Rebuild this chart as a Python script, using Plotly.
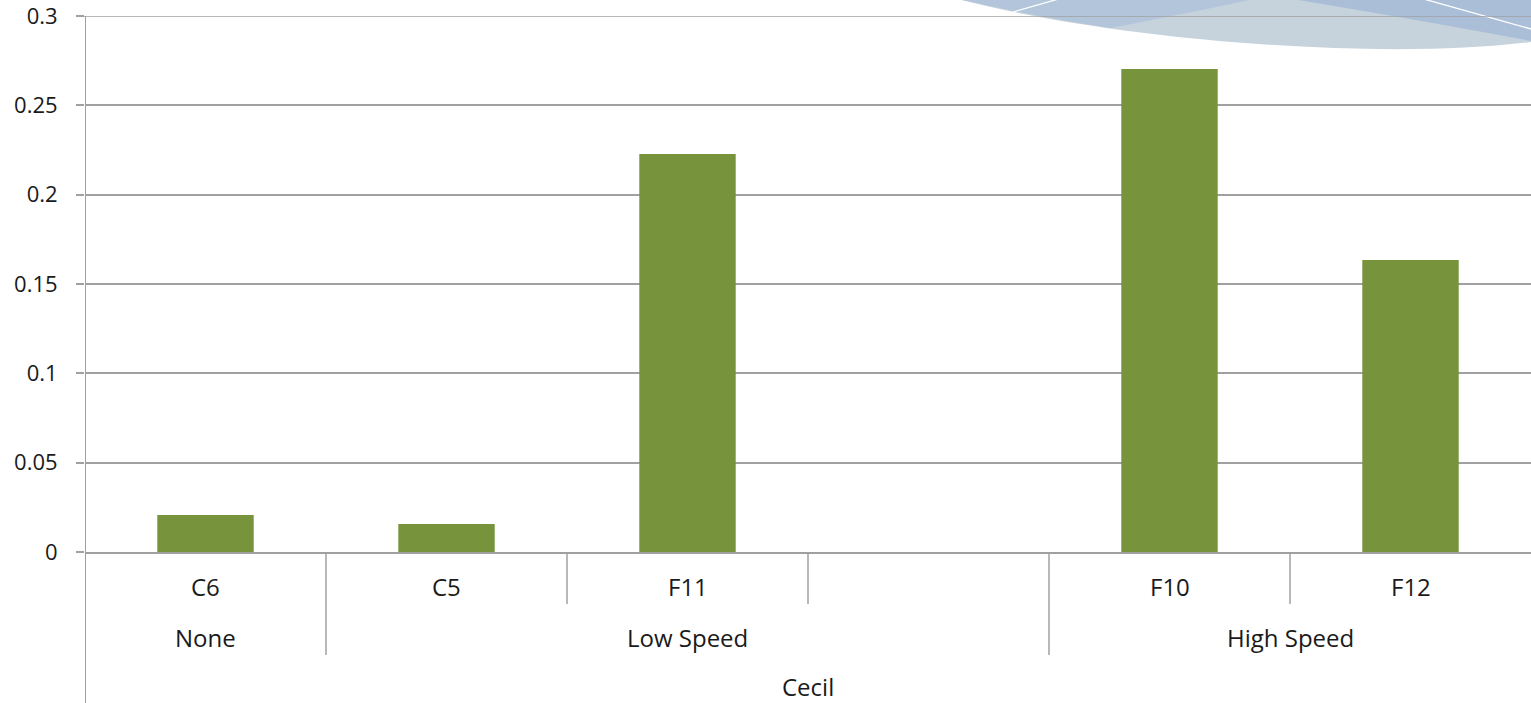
import plotly.graph_objects as go

# Data
categories = ["C6", "C5", "F11", "", "F10", "F12"]
groups = ["None", "Low Speed", "Low Speed", "Low Speed", "High Speed", "High Speed"]
top_group = "Cecil"
values = [0.0207, 0.0157, 0.2228, None, 0.2703, 0.1634]
y_ticks = [0, 0.05, 0.1, 0.15, 0.2, 0.25, 0.3]

W, H = 1531, 703
L, R, T, B = 85, 0, 16, 151
PW, PH = W - L - R, H - T - B

BAR = "#77933C"
GRID = "#A0A0A0"
TXT = "#1a1a1a"
FONT = "Open Sans"

idx = list(range(len(categories)))

fig = go.Figure()
fig.add_trace(go.Bar(x=idx, y=values, marker=dict(color=BAR, line=dict(width=0)),
                     width=0.4, hoverinfo="skip"))


def pp(x, y):
    """pixel -> paper coordinates"""
    return f"{(x - L) / PW:.5f},{(H - B - y) / PH:.5f}"


shapes = []
# decorative swoosh in the upper right corner
shapes.append(dict(type="path", xref="paper", yref="paper", layer="below",
                   path=f"M{pp(950,-3)} C{pp(1100,38)} {pp(1370,62)} {pp(1531,42)} L{pp(1531,-3)} Z",
                   fillcolor="#C6D3DD", line=dict(width=0)))
shapes.append(dict(type="path", xref="paper", yref="paper", layer="below",
                   path=f"M{pp(950,-3)} Q{pp(1030,16)} {pp(1110,28)} Q{pp(1195,12)} {pp(1263,-3)} Z",
                   fillcolor="#B3C5DA", line=dict(width=0)))
shapes.append(dict(type="path", xref="paper", yref="paper", layer="below",
                   path=f"M{pp(1280,-3)} Q{pp(1420,20)} {pp(1531,41)} L{pp(1531,-3)} Z",
                   fillcolor="#AABED8", line=dict(width=0)))
shapes.append(dict(type="line", xref="paper", yref="paper", layer="below",
                   x0=(1013 - L) / PW, y0=(H - B - 12) / PH, x1=(1062 - L) / PW, y1=(H - B + 2) / PH,
                   line=dict(color="white", width=1.3)))
shapes.append(dict(type="line", xref="paper", yref="paper", layer="below",
                   x0=(1420 - L) / PW, y0=(H - B + 2) / PH, x1=(1531 - L) / PW, y1=(H - B - 29) / PH,
                   line=dict(color="white", width=1.3)))
# top gridline at the end of the value range, drawn over the swoosh
shapes.append(dict(type="line", xref="paper", yref="y", layer="below",
                   x0=-8 / PW, x1=1, y0=y_ticks[-1], y1=y_ticks[-1],
                   line=dict(color=GRID, width=1.5)))

# category separators on the multi-level axis
lvl1 = -52 / PH
lvl2 = -103 / PH
for i in range(len(categories) - 1):
    y_end = lvl2 if groups[i] != groups[i + 1] else lvl1
    shapes.append(dict(type="line", xref="x", yref="paper", x0=i + 0.5, x1=i + 0.5,
                       y0=0, y1=y_end, line=dict(color=GRID, width=1.5)))
# left axis line extends through all levels
shapes.append(dict(type="line", xref="x", yref="paper", x0=-0.5, x1=-0.5,
                   y0=1, y1=-B / PH, line=dict(color=GRID, width=2)))

annotations = []
for i, c in enumerate(categories):
    if c:
        annotations.append(dict(x=i, y=-34 / PH, xref="x", yref="paper", text=c,
                                showarrow=False, yanchor="middle",
                                font=dict(family=FONT, size=24, color=TXT)))
# group labels
spans = {}
for i, g in enumerate(groups):
    spans.setdefault(g, []).append(i)
for g, ids in spans.items():
    annotations.append(dict(x=(ids[0] + ids[-1]) / 2, y=-85 / PH, xref="x", yref="paper", text=g,
                            showarrow=False, yanchor="middle",
                            font=dict(family=FONT, size=24, color=TXT)))
annotations.append(dict(x=(idx[0] + idx[-1]) / 2, y=-134 / PH, xref="x", yref="paper", text=top_group,
                        showarrow=False, yanchor="middle",
                        font=dict(family=FONT, size=24, color=TXT)))

fig.update_layout(
    width=W, height=H,
    margin=dict(l=L, r=R, t=T, b=B, pad=0),
    paper_bgcolor="white", plot_bgcolor="rgba(0,0,0,0)",
    showlegend=False, bargap=0.6,
    shapes=shapes, annotations=annotations,
    xaxis=dict(range=[-0.5, len(categories) - 0.5], showticklabels=False, showgrid=False,
               zeroline=False, showline=True, linecolor=GRID, linewidth=1.5, ticks=""),
    yaxis=dict(range=[0, 0.3], tickvals=y_ticks, showgrid=True, gridcolor=GRID, gridwidth=1.5,
               zeroline=False, showline=False, ticks="outside", ticklen=8, tickcolor=GRID,
               tickwidth=1.5, ticklabelstandoff=14, ticklabeloverflow="allow",
               tickfont=dict(family=FONT, size=22, color=TXT)),
)

fig.write_html("out.html")
